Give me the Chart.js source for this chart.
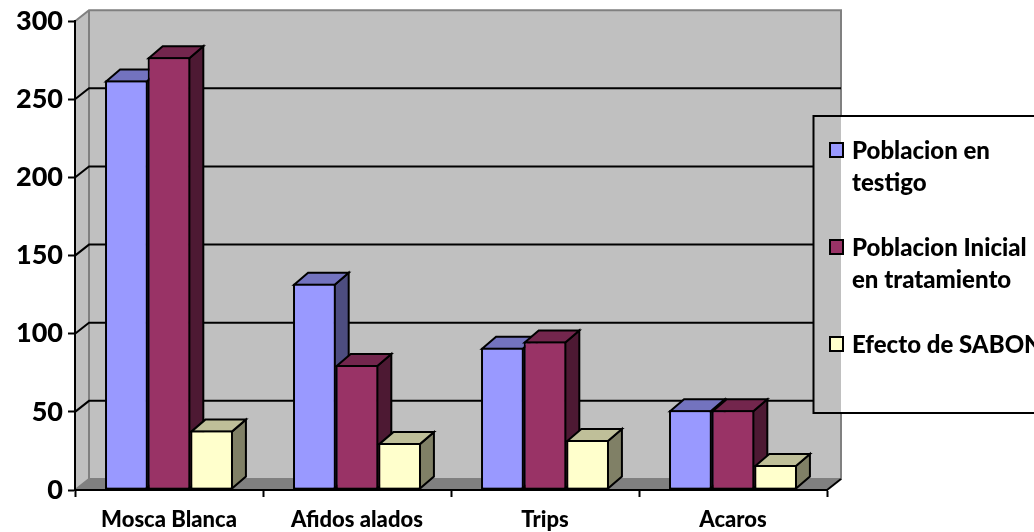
<!DOCTYPE html>
<html>
<head>
<meta charset="utf-8">
<style>
html,body{margin:0;padding:0;background:#fff;overflow:hidden}
#wrap{width:1034px;height:532px;position:relative}
</style>
<script src="https://cdn.jsdelivr.net/npm/chart.js@4"></script>
</head>
<body>
<div id="wrap"><canvas id="c" width="1034" height="532"></canvas></div>
<script>
const categories = ['Mosca Blanca', 'Afidos alados', 'Trips', 'Acaros'];
const testigo = [262, 132, 91, 51];
const inicial = [277, 80, 95, 51];
const efecto = [38, 30, 32, 16];
const legendLines = [['Poblacion en', 'testigo'], ['Poblacion Inicial', 'en tratamiento'], ['Efecto de SABON']];
const fronts = ['#9999FF', '#993366', '#FFFFCC'];
const tops = ['#7373BF', '#73264D', '#BFBF99'];
const sides = ['#4D4D80', '#4D1933', '#808066'];

const DX = 14, DY = -11, BAR_DY = -12;
const FONT = 'Lato, Carlito, sans-serif';

function poly(ctx, pts, fill, stroke, lw) {
  ctx.beginPath();
  pts.forEach((p, i) => i ? ctx.lineTo(p[0], p[1]) : ctx.moveTo(p[0], p[1]));
  ctx.closePath();
  if (fill) { ctx.fillStyle = fill; ctx.fill(); }
  if (stroke) { ctx.strokeStyle = stroke; ctx.lineWidth = lw; ctx.lineJoin = 'miter'; ctx.stroke(); }
}

const chamber = {
  id: 'chamber',
  // Back wall, side wall, floor and the bent gridlines
  beforeDraw(chart) {
    const { ctx, chartArea: a, scales: { y } } = chart;
    ctx.save();
    poly(ctx, [[a.left, a.top], [a.left + DX, a.top + DY], [a.right + DX, a.top + DY], [a.right + DX, a.bottom + DY], [a.left + DX, a.bottom + DY], [a.left, a.bottom]], '#C0C0C0');
    poly(ctx, [[a.left, a.bottom], [a.left + DX, a.bottom + DY], [a.right + DX, a.bottom + DY], [a.right, a.bottom]], '#808080');
    ctx.strokeStyle = '#808080';
    ctx.lineWidth = 2;
    ctx.beginPath();
    ctx.moveTo(a.left, a.top);
    ctx.lineTo(a.left + DX, a.top + DY);
    ctx.lineTo(a.right + DX, a.top + DY);
    ctx.lineTo(a.right + DX, a.bottom + DY);
    ctx.lineTo(a.left + DX, a.bottom + DY);
    ctx.lineTo(a.left + DX, a.top + DY);
    ctx.moveTo(a.left, a.bottom);
    ctx.lineTo(a.left + DX, a.bottom + DY);
    ctx.stroke();
    ctx.strokeStyle = '#000';
    ctx.beginPath();
    y.ticks.forEach((t, i) => {
      if (t.value === 0 || t.value === 300) return;
      const py = y.getPixelForTick(i);
      ctx.moveTo(a.left, py);
      ctx.lineTo(a.left + DX, py + DY);
      ctx.lineTo(a.right + DX, py + DY);
    });
    ctx.stroke();
    // Closing edge of the floor towards the front axis
    ctx.beginPath();
    ctx.moveTo(a.right, a.bottom);
    ctx.lineTo(a.right + DX, a.bottom + DY);
    ctx.stroke();
    ctx.restore();
  },
  // Columns are stacked left to right so each one covers its neighbour's side face
  afterDatasetsDraw(chart) {
    const { ctx } = chart;
    ctx.save();
    series.forEach((_, i) => {
      chart.getDatasetMeta(i).data.forEach(b => {
        const l = b.x - b.width / 2, r = b.x + b.width / 2, t = b.y, g = b.base;
        poly(ctx, [[r - 1, t + 1], [r - 1 + DX, t + 1 + BAR_DY], [r - 1 + DX, g - 1 + BAR_DY], [r - 1, g - 1]], sides[i], '#000', 2);
        poly(ctx, [[l + 1, t + 1], [l + 1 + DX, t + 1 + BAR_DY], [r - 1 + DX, t + 1 + BAR_DY], [r - 1, t + 1]], tops[i], '#000', 2);
        b.draw(ctx);
      });
    });
    ctx.restore();
  },
  // Legend panel with its swatches
  afterDraw(chart) {
    const { ctx } = chart;
    ctx.save();
    ctx.fillStyle = '#fff';
    ctx.fillRect(813, 116, 221, 297);
    ctx.fillStyle = '#C0C0C0';
    ctx.fillRect(813, 116, 28, 297);
    ctx.strokeStyle = '#000';
    ctx.lineWidth = 2;
    ctx.strokeRect(813.5, 116, 240, 297);
    const rows = [[151, 183], [248, 280], [345]];
    const swatch = [143, 240, 337];
    ctx.font = '900 24px ' + FONT;
    ctx.textBaseline = 'middle';
    ctx.textAlign = 'left';
    legendLines.forEach((lines, i) => {
      ctx.fillStyle = fronts[i];
      ctx.strokeStyle = '#000';
      ctx.fillRect(830, swatch[i], 13, 14);
      ctx.strokeRect(830, swatch[i], 13, 14);
      ctx.fillStyle = '#000';
      lines.forEach((s, k) => ctx.fillText(s, 852, rows[i][k]));
    });
    ctx.restore();
  }
};

const series = [testigo, inicial, efecto];
new Chart(document.getElementById('c'), {
  type: 'bar',
  data: {
    labels: categories,
    datasets: series.map((values, i) => ({
      label: legendLines[i].join(' '),
      data: values,
      backgroundColor: fronts[i],
      borderColor: '#000',
      borderWidth: 2,
      borderSkipped: false,
      categoryPercentage: 0.68,
      barPercentage: 1
    }))
  },
  options: {
    responsive: false,
    animation: false,
    layout: { padding: { top: 21, right: 207, left: 0, bottom: 0 } },
    plugins: { legend: { display: false }, tooltip: { enabled: false }, title: { display: false } },
    scales: {
      x: {
        afterFit(s) { s.height = 42; },
        border: { color: '#000', width: 2 },
        grid: { drawOnChartArea: false, drawTicks: true, color: '#000', tickColor: '#000', tickLength: 7, tickWidth: 2, offset: true },
        ticks: { color: '#000', font: { family: FONT, weight: 900, size: 22 }, padding: 10, maxRotation: 0 }
      },
      y: {
        min: 0,
        max: 300,
        afterFit(s) { s.width = 75; },
        border: { color: '#000', width: 2 },
        grid: { drawOnChartArea: false, drawTicks: true, color: '#000', tickColor: '#000', tickLength: 7, tickWidth: 2 },
        ticks: { stepSize: 50, color: '#000', font: { family: FONT, weight: 900, size: 27 }, padding: 5 }
      }
    }
  },
  plugins: [chamber]
});
</script>
</body>
</html>
